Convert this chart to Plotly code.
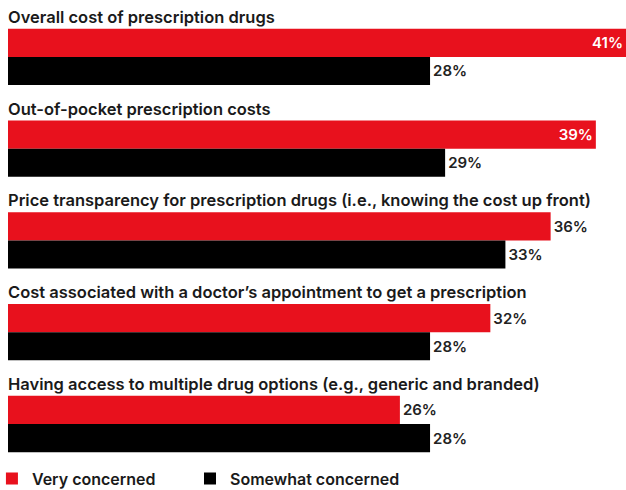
import plotly.graph_objects as go

categories = [
    "Overall cost of prescription drugs",
    "Out-of-pocket prescription costs",
    "Price transparency for prescription drugs (i.e., knowing the cost up front)",
    "Cost associated with a doctor’s appointment to get a prescription",
    "Having access to multiple drug options (e.g., generic and branded)",
]
very_concerned = [41, 39, 36, 32, 26]
somewhat_concerned = [28, 29, 33, 28, 28]

RED = "#E8111D"
BLACK = "#000000"
FONT = "Inter"

def positions(vals):
    return ["inside" if v >= 37 else "outside" for v in vals]

fig = go.Figure()
for name, vals, color, lg in [("Very concerned", very_concerned, RED, "legend"),
                              ("Somewhat concerned", somewhat_concerned, BLACK, "legend2")]:
    fig.add_trace(go.Bar(
        y=categories, x=vals, name=name, orientation="h",
        marker=dict(color=color, line=dict(width=0)),
        text=[f"{v}%" for v in vals],
        textposition=positions(vals),
        insidetextanchor="end",
        insidetextfont=dict(color="white", size=15, family=FONT, weight=600),
        outsidetextfont=dict(color="#222222", size=15, family=FONT, weight=600),
        cliponaxis=False,
        hoverinfo="skip",
        legend=lg,
    ))

for c in categories:
    fig.add_annotation(x=0, y=c, xref="x", yref="y", text=c, showarrow=False,
                       xanchor="left", yanchor="middle", yshift=40, xshift=-2,
                       font=dict(size=16.5, color="#1a1a1a", family=FONT, weight=600))

legend_style = dict(orientation="h", xanchor="left", y=-0.0055, yanchor="middle",
                    font=dict(size=16, color="#1a1a1a", family=FONT, weight=600),
                    itemwidth=30, bgcolor="rgba(0,0,0,0)")

fig.update_layout(
    width=626, height=490,
    margin=dict(l=8, r=0, t=11, b=14, autoexpand=False),
    barmode="group", bargap=0.387, bargroupgap=0,
    plot_bgcolor="white", paper_bgcolor="white",
    xaxis=dict(range=[0, 41], visible=False, fixedrange=True),
    yaxis=dict(autorange="reversed", visible=False, fixedrange=True),
    showlegend=True,
    legend=dict(x=-0.026, **legend_style),
    legend2=dict(x=0.2945, **legend_style),
    font=dict(family=FONT),
)

fig.write_html("out.html")
